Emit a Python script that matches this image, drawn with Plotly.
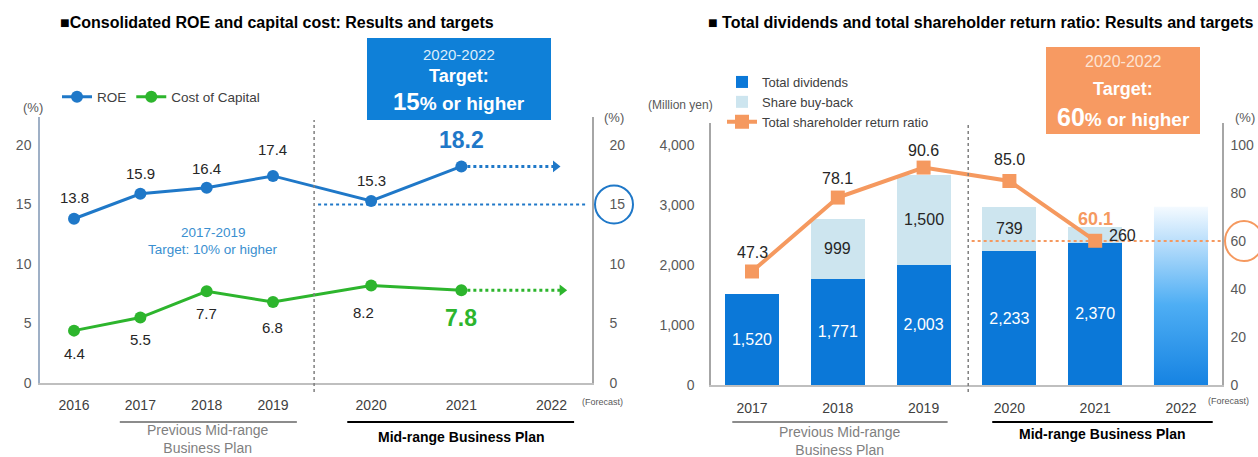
import plotly.graph_objects as go

W, H = 1258, 457

# ---------------- data: ROE and cost of capital ----------------
ROE_YEARS = ["2016", "2017", "2018", "2019", "2020", "2021", "2022"]
ROE = [13.8, 15.9, 16.4, 17.4, 15.3, 18.2]
COST_OF_CAPITAL = [4.4, 5.5, 7.7, 6.8, 8.2, 7.8]
ROE_TARGET = 15
ROE_TICKS = [0, 5, 10, 15, 20]

# ---------------- data: shareholder returns ----------------
RET_YEARS = ["2017", "2018", "2019", "2020", "2021", "2022"]
DIVIDENDS = [1520, 1771, 2003, 2233, 2370]
BUYBACK = [0, 999, 1500, 739, 260]
RETURN_RATIO = [47.3, 78.1, 90.6, 85.0, 60.1]
FORECAST_2022 = 2970
RATIO_TARGET = 60
DIV_TICKS = [0, 1000, 2000, 3000, 4000]
RATIO_TICKS = [0, 20, 40, 60, 80, 100]

# ---------------- styling ----------------
FONT = "Liberation Sans, Arial, sans-serif"
TXT = "#262626"
TICK = "#595959"
ROE_BLUE = "#1f78c8"
GREEN = "#2db52d"
BOX_BLUE = "#0f80d8"
ORANGE = "#f5995f"
BOX_ORANGE = "#f79a62"
DIV_BLUE = "#0b78d8"
BUY_LIGHT = "#cde5ef"
GREY_LINE = "#a6a6a6"


def px(x):
    return x / W


def py(y):
    return 1 - y / H


# left chart: previous plan years are spaced tighter than the current plan years
def left_pos(i):
    return i if i < 4 else 4.48 + (i - 4) * 1.36


LX = [left_pos(i) for i in range(len(ROE_YEARS))]
RX = list(range(len(RET_YEARS)))
BAR_W = 0.63
LEFT_SEP = 3.62
RIGHT_SEP = 2.52

fig = go.Figure()

# ---- left chart: dotted forecast arrows ----
for vals, col, reach in ((ROE, ROE_BLUE, 0.06), (COST_OF_CAPITAL, GREEN, 0.16)):
    fig.add_trace(go.Scatter(
        x=[LX[len(vals) - 1], LX[len(vals)] + reach], y=[vals[-1], vals[-1]],
        mode="lines", line=dict(color=col, width=3, dash="dot"),
        xaxis="x", yaxis="y", showlegend=False, hoverinfo="skip"))
    fig.add_trace(go.Scatter(
        x=[LX[len(vals)] + reach], y=[vals[-1]], mode="markers",
        marker=dict(symbol="triangle-right", size=10, color=col),
        xaxis="x", yaxis="y", showlegend=False, hoverinfo="skip"))

fig.add_trace(go.Scatter(
    x=LX[:len(ROE)], y=ROE, name="ROE", mode="lines+markers",
    line=dict(color=ROE_BLUE, width=3), marker=dict(size=12, color=ROE_BLUE),
    xaxis="x", yaxis="y", legend="legend"))
fig.add_trace(go.Scatter(
    x=LX[:len(COST_OF_CAPITAL)], y=COST_OF_CAPITAL, name="Cost of Capital",
    mode="lines+markers", line=dict(color=GREEN, width=3),
    marker=dict(size=12, color=GREEN),
    xaxis="x", yaxis="y", legend="legend"))

# ---- right chart: stacked bars, forecast bar and return ratio ----
fig.add_trace(go.Bar(
    x=RX[:len(DIVIDENDS)], y=DIVIDENDS, name="Total dividends", width=BAR_W,
    marker=dict(color=DIV_BLUE, line=dict(width=0)),
    text=[f"{v:,}" for v in DIVIDENDS], textposition="inside",
    insidetextanchor="middle", textangle=0,
    textfont=dict(color="white", size=16, family=FONT),
    xaxis="x2", yaxis="y3", legend="legend2"))
fig.add_trace(go.Bar(
    x=RX[:len(BUYBACK)], y=BUYBACK, name="Share buy-back", width=BAR_W,
    marker=dict(color=BUY_LIGHT, line=dict(width=0)),
    xaxis="x2", yaxis="y3", legend="legend2"))

fx = RX[-1]
fig.add_trace(go.Scatter(
    x=[fx - BAR_W / 2, fx - BAR_W / 2, fx + BAR_W / 2, fx + BAR_W / 2, fx - BAR_W / 2],
    y=[0, FORECAST_2022, FORECAST_2022, 0, 0],
    mode="lines", line=dict(width=0), fill="toself",
    fillgradient=dict(type="vertical",
                      colorscale=[[0, "#1683e2"], [0.45, "#4eaef4"],
                                  [0.8, "#b9defb"], [1, "#f4faff"]]),
    xaxis="x2", yaxis="y3", showlegend=False, hoverinfo="skip"))

fig.add_trace(go.Scatter(
    x=RX[:len(RETURN_RATIO)], y=RETURN_RATIO, name="Total shareholder return ratio",
    mode="lines+markers", line=dict(color=ORANGE, width=4),
    marker=dict(symbol="square", size=14, color=ORANGE),
    xaxis="x2", yaxis="y4", legend="legend2"))

# ---------------- annotations ----------------
ann = []


def label(text, x, y, xref="paper", yref="paper", size=15, color=TXT, bold=False,
          xanchor="center", yanchor="middle", xshift=0, yshift=0):
    if bold:
        text = f"<b>{text}</b>"
    ann.append(dict(text=text, x=x, y=y, xref=xref, yref=yref, showarrow=False,
                    font=dict(size=size, color=color, family=FONT),
                    xanchor=xanchor, yanchor=yanchor, xshift=xshift, yshift=yshift))


# titles
label("■Consolidated ROE and capital cost: Results and targets", px(58), py(22),
      size=16, color="#000000", bold=True, xanchor="left")
label("■ Total dividends and total shareholder return ratio: Results and targets",
      px(706), py(22), size=16, color="#000000", bold=True, xanchor="left")

# ROE / cost of capital value labels
ROE_DY = [21, 20, 19, 26, 20, 26]
for i, v in enumerate(ROE):
    last = i == len(ROE) - 1
    label(f"{v:.1f}", LX[i], v, "x", "y", size=23 if last else 15,
          color=ROE_BLUE if last else TXT, bold=last, yshift=ROE_DY[i])
COST_DY = [-23, -22, -22, -25, -27, -28]
COST_DX = [0, 0, 0, 0, -8, 0]
for i, v in enumerate(COST_OF_CAPITAL):
    last = i == len(COST_OF_CAPITAL) - 1
    label(f"{v:.1f}", LX[i], v, "x", "y", size=23 if last else 15,
          color=GREEN if last else TXT, bold=last, yshift=COST_DY[i], xshift=COST_DX[i])

label("2017-2019", px(213), py(233), size=13.5, color="#3a8fd0")
label("Target: 10% or higher", px(213), py(250), size=13.5, color="#3a8fd0")

# target box texts (left)
label("2020-2022", px(459), py(55), size=15, color="#dcedfb")
label("Target:", px(459), py(76), size=18, color="white", bold=True)
label("<span style='font-size:24px'>15</span>% or higher", px(459), py(102),
      size=19, color="white", bold=True)

# target box texts (right)
label("2020-2022", px(1123), py(62), size=16, color="#fde4d4")
label("Target:", px(1123), py(89), size=18, color="white", bold=True)
label("<span style='font-size:25px'>60</span>% or higher", px(1123), py(117),
      size=19, color="white", bold=True)

# unit captions
label("(%)", px(33), py(107), size=13, color=TICK)
label("(%)", px(614), py(117), size=13, color=TICK)
label("(Million yen)", px(680), py(105), size=12, color=TICK)
label("(%)", px(1245), py(117), size=13, color=TICK)
label("(Forecast)", px(602), py(402), size=9, color=TICK)
label("(Forecast)", px(1228), py(401), size=9, color=TICK)

# plan bracket captions
label("Previous Mid-range<br>Business Plan", (0.69 + 3.36) / 2, py(439), "x", "paper",
      size=14, color="#7f7f7f")
label("Mid-range Business Plan", (4.12 + 7.54) / 2, py(437), "x", "paper",
      size=14, color="#000000", bold=True)
label("Previous Mid-range<br>Business Plan", (-0.23 + 2.28) / 2, py(441), "x2", "paper",
      size=14, color="#7f7f7f")
label("Mid-range Business Plan", (2.80 + 5.37) / 2, py(434), "x2", "paper",
      size=14, color="#000000", bold=True)

# buy-back value labels
for i, (d, b) in enumerate(zip(DIVIDENDS, BUYBACK)):
    if b <= 0:
        continue
    label(f"{b:,}", RX[i], d + b / 2, "x2", "y3", size=16, xshift=27 if b < 400 else 0)

# return ratio labels
RATIO_DY = [19, 19, 17, 22, 22]
for i, v in enumerate(RETURN_RATIO):
    last = i == len(RETURN_RATIO) - 1
    label(f"{v:.1f}", RX[i], v, "x2", "y4", size=18 if last else 16,
          color=ORANGE if last else TXT, bold=last, yshift=RATIO_DY[i])

# ---------------- shapes ----------------
shapes = [
    # target boxes
    dict(type="rect", xref="paper", yref="paper", x0=px(367), x1=px(551),
         y0=py(120), y1=py(38), fillcolor=BOX_BLUE, line=dict(width=0), layer="below"),
    dict(type="rect", xref="paper", yref="paper", x0=px(1046), x1=px(1200),
         y0=py(134), y1=py(47), fillcolor=BOX_ORANGE, line=dict(width=0), layer="below"),
    # plan separators
    dict(type="line", xref="x", yref="paper", x0=LEFT_SEP, x1=LEFT_SEP,
         y0=py(392), y1=py(120), line=dict(color="#7f7f7f", width=1.5, dash="dot")),
    dict(type="line", xref="x2", yref="paper", x0=RIGHT_SEP, x1=RIGHT_SEP,
         y0=py(392), y1=py(122), line=dict(color="#7f7f7f", width=1.5, dash="dot")),
    # target reference lines
    dict(type="line", xref="x", yref="y", x0=LEFT_SEP + 0.06, x1=7.75,
         y0=ROE_TARGET, y1=ROE_TARGET, line=dict(color=ROE_BLUE, width=2, dash="dot")),
    dict(type="line", xref="x2", yref="y4", x0=RIGHT_SEP + 0.04, x1=5.6,
         y0=RATIO_TARGET, y1=RATIO_TARGET, line=dict(color=ORANGE, width=2, dash="dot")),
    # circles around the target tick labels
    dict(type="circle", xref="paper", yref="y2", xsizemode="pixel", ysizemode="pixel",
         xanchor=px(614), yanchor=ROE_TARGET, x0=-19, x1=19, y0=-19, y1=19,
         line=dict(color=ROE_BLUE, width=2)),
    dict(type="circle", xref="paper", yref="y4", xsizemode="pixel", ysizemode="pixel",
         xanchor=px(1244), yanchor=RATIO_TARGET, x0=-19, x1=19, y0=-20, y1=20,
         line=dict(color=ORANGE, width=2)),
    # plan brackets
    dict(type="line", xref="x", yref="paper", x0=0.69, x1=3.36, y0=py(422), y1=py(422),
         line=dict(color="#8c8c8c", width=2)),
    dict(type="line", xref="x", yref="paper", x0=4.12, x1=7.54, y0=py(422), y1=py(422),
         line=dict(color="#000000", width=2)),
    dict(type="line", xref="x2", yref="paper", x0=-0.23, x1=2.28, y0=py(422), y1=py(422),
         line=dict(color="#8c8c8c", width=2)),
    dict(type="line", xref="x2", yref="paper", x0=2.80, x1=5.37, y0=py(422), y1=py(422),
         line=dict(color="#000000", width=2)),
]

tickfont = dict(size=14, color=TICK, family=FONT)
xtickfont = dict(size=14, color="#404040", family=FONT)
LEFT_TOP = 22.35
RIGHT_TOP = 4367

fig.update_layout(
    width=W, height=H, margin=dict(l=0, r=0, t=0, b=0, autoexpand=False),
    paper_bgcolor="white", plot_bgcolor="white",
    font=dict(family=FONT, color=TXT),
    barmode="stack", hovermode=False,
    xaxis=dict(domain=[px(40), px(592)], range=[-0.513, 7.81], tickvals=LX,
               ticktext=ROE_YEARS, showgrid=False, zeroline=False, showline=True,
               linecolor="#bfbfbf", linewidth=1.5, ticks="", tickfont=xtickfont,
               ticklabelstandoff=8, anchor="y"),
    yaxis=dict(domain=[py(383), py(117)], range=[0, LEFT_TOP], tickvals=ROE_TICKS,
               showgrid=False, zeroline=False, showline=True, linecolor="#9fb0c6",
               linewidth=1.5, ticks="", tickfont=tickfont, ticklabelstandoff=4,
               anchor="x"),
    yaxis2=dict(overlaying="y", side="right", anchor="x", range=[0, LEFT_TOP],
                tickvals=ROE_TICKS, showgrid=False, zeroline=False, showline=True,
                linecolor=GREY_LINE, linewidth=1.5, ticks="", tickfont=tickfont,
                ticklabelstandoff=13),
    xaxis2=dict(domain=[px(711), px(1222)], range=[-0.478, 5.478], tickvals=RX,
                ticktext=RET_YEARS, showgrid=False, zeroline=False, showline=True,
                linecolor="#bfbfbf", linewidth=1.5, ticks="", tickfont=xtickfont,
                ticklabelstandoff=9, anchor="y3"),
    yaxis3=dict(domain=[py(385), py(123)], range=[0, RIGHT_TOP], tickvals=DIV_TICKS,
                tickformat=",d", showgrid=False, zeroline=False, showline=True,
                linecolor=GREY_LINE, linewidth=1.5, ticks="", tickfont=tickfont,
                ticklabelstandoff=12, anchor="x2"),
    yaxis4=dict(overlaying="y3", side="right", anchor="x2",
                range=[0, RIGHT_TOP * 100 / 4000], tickvals=RATIO_TICKS,
                showgrid=False, zeroline=False, showline=True, linecolor=GREY_LINE,
                linewidth=1.5, ticks="", tickfont=tickfont, ticklabelstandoff=4),
    legend=dict(orientation="h", x=px(57), y=py(97), xanchor="left", yanchor="middle",
                font=dict(size=13.5, color="#404040", family=FONT),
                bgcolor="rgba(0,0,0,0)", itemclick=False, itemdoubleclick=False,
                traceorder="normal"),
    legend2=dict(orientation="v", x=px(722), y=py(67), xanchor="left", yanchor="top",
                 font=dict(size=13, color="#404040", family=FONT),
                 bgcolor="rgba(0,0,0,0)", tracegroupgap=0, traceorder="normal",
                 itemclick=False, itemdoubleclick=False),
    annotations=ann, shapes=shapes,
)

fig.write_html("out.html", config={"displayModeBar": False})
